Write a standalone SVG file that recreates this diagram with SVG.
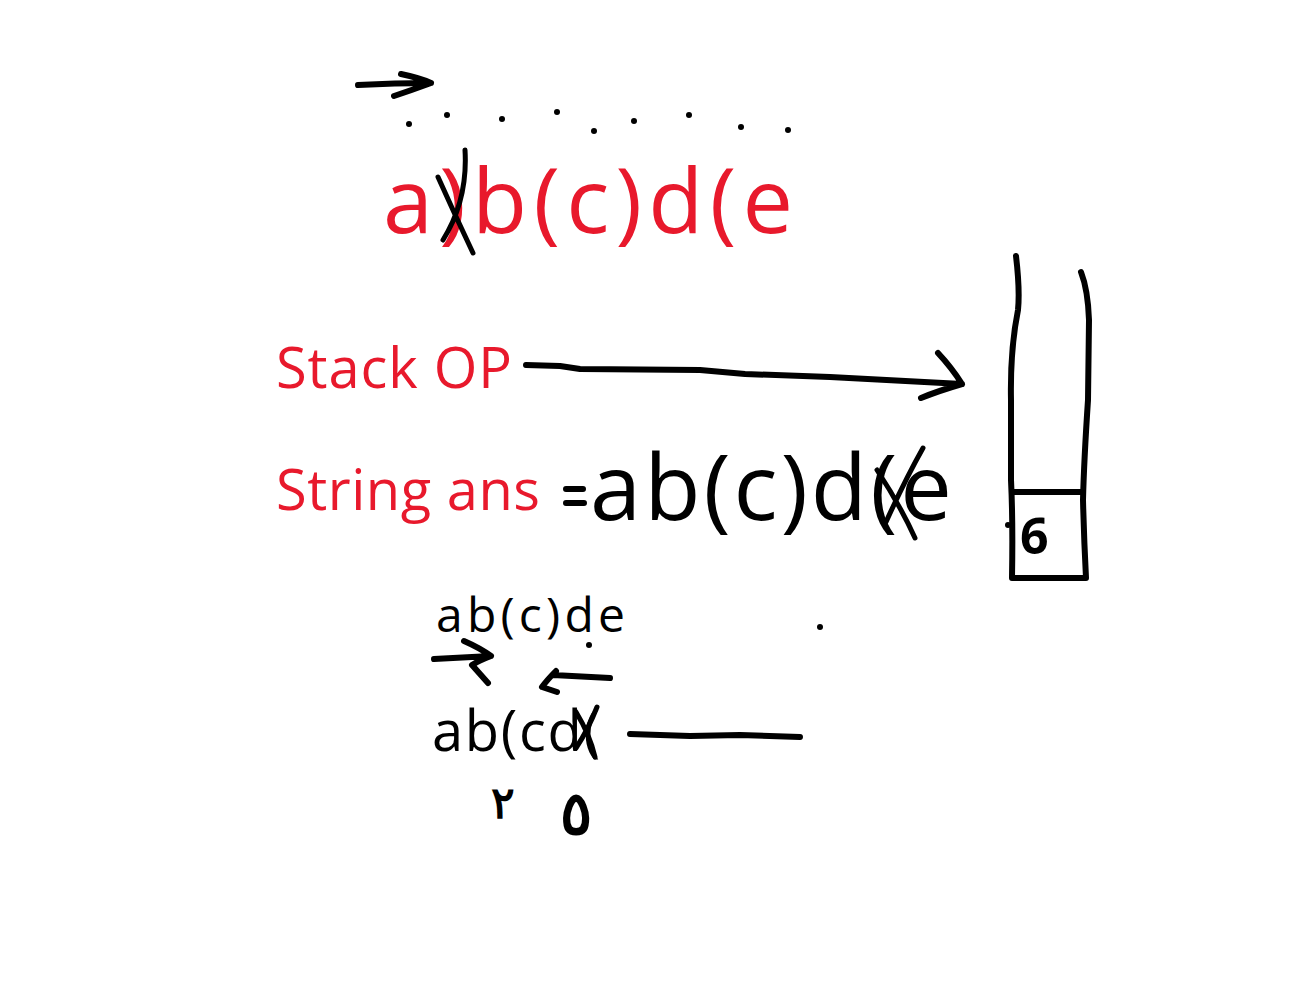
<svg xmlns="http://www.w3.org/2000/svg" width="1298" height="998" viewBox="0 0 1298 998">
<style>
.ink{fill:none;stroke:#000;stroke-width:6;stroke-linecap:round;stroke-linejoin:round}
.thin{fill:none;stroke:#000;stroke-width:5;stroke-linecap:round;stroke-linejoin:round}
.red{fill:#e8192c;font-family:"Open Sans","Liberation Sans",sans-serif}
.blk{fill:#000;font-family:"Open Sans","Liberation Sans",sans-serif}
.dot{fill:#000}
</style>
<rect width="1298" height="998" fill="#fff"/>
<g id="top-arrow">
<path class="ink" stroke-width="7" d="M358 85 Q395 83 431 83 M401 74 Q420 78 431 83 Q412 90 394 96"/>
</g>
<g id="dots">
<circle class="dot" cx="409" cy="124" r="3"/>
<circle class="dot" cx="447" cy="115" r="3"/>
<circle class="dot" cx="502" cy="119" r="3"/>
<circle class="dot" cx="557" cy="112" r="3"/>
<circle class="dot" cx="594" cy="131" r="3"/>
<circle class="dot" cx="634" cy="121" r="3"/>
<circle class="dot" cx="689" cy="115" r="3"/>
<circle class="dot" cx="741" cy="127" r="3"/>
<circle class="dot" cx="788" cy="130" r="3"/>
</g>
<g id="input-string">
<text class="red" x="383" y="233" font-size="90" textLength="410" lengthAdjust="spacing">a)b(c)d(e</text>
<path class="thin" d="M438 177 Q455 215 473 253 M465 150 Q468 200 443 240"/>
</g>
<g id="stack-label">
<text class="red" x="276" y="388" font-size="56" textLength="236" lengthAdjust="spacing">Stack OP</text>
</g>
<g id="connectors">
<path class="ink" d="M526 365 L560 366 L580 369 L700 370 L745 374 L830 377 L962 384 M938 353 Q952 368 962 384 Q938 391 921 398"/>
<path class="ink" d="M434 659 L491 656 M464 641 Q480 648 491 656 Q478 661 472 665 Q480 674 488 683"/>
<path class="ink" d="M610 678 L553 675 M556 671 Q547 680 542 687 L557 692"/>
<path class="ink" d="M630 734 L690 736 L740 735 L800 737"/>
</g>
<g id="string-ans">
<text class="red" x="276" y="510" font-size="56" textLength="264" lengthAdjust="spacing">String ans</text>
<path class="ink" d="M566 489 L583 489 M566 503 L584 503"/>
<text class="blk" x="590" y="520" font-size="92" textLength="362" lengthAdjust="spacing">ab(c)d(e</text>
<path class="thin" d="M923 448 Q905 480 886 522 M877 470 Q900 505 915 538"/>
</g>
<g id="stack">
<path class="ink" d="M1016 256 Q1020 290 1018 310 Q1010 350 1011 400 L1011 480 Q1013 520 1012 578 L1086 578 Q1084 540 1083 500 Q1084 460 1088 400 L1089 320 Q1088 290 1081 272"/>
<path class="ink" d="M1012 492 L1083 492"/>
<circle class="dot" cx="1008" cy="525" r="3"/>
<text class="blk" x="1020" y="554" font-size="50" font-weight="bold">6</text>
</g>
<g id="steps">
<text class="blk" x="436" y="632" font-size="48" textLength="189" lengthAdjust="spacing">ab(c)de</text>
<circle class="dot" cx="589" cy="645" r="3"/>
<circle class="dot" cx="820" cy="627" r="3"/>
<text class="blk" x="432" y="751" font-size="56" textLength="168" lengthAdjust="spacing">ab(cd(</text>
<path class="thin" d="M597 707 Q588 730 576 748 M576 712 Q590 735 595 757"/>
<text class="blk" x="491" y="818" font-size="44" font-weight="bold" font-family="'DejaVu Sans',sans-serif">٢</text>
<text class="blk" x="560" y="834" font-size="60" font-weight="bold" font-family="'DejaVu Sans',sans-serif">٥</text>
</g>
</svg>
